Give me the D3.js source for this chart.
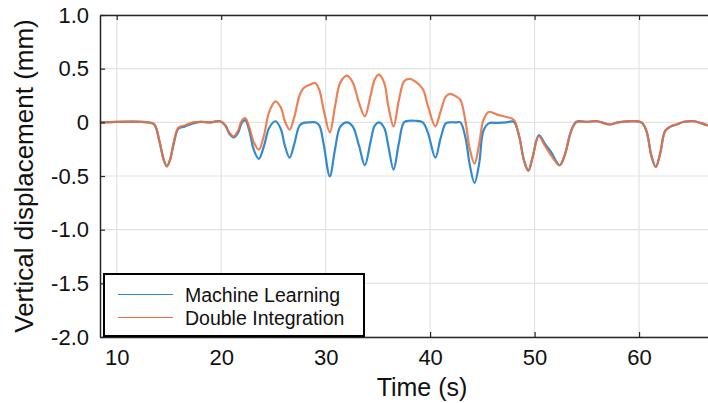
<!DOCTYPE html>
<html>
<head>
<meta charset="utf-8">
<script src="https://cdn.jsdelivr.net/npm/d3@7"></script>
<style>
  html, body { margin: 0; padding: 0; background: #fff; }
  svg { display: block; font-family: "Liberation Sans", Arial, sans-serif; }
</style>
</head>
<body>
<svg id="chart" width="708" height="403"></svg>
<script>
// Time samples (s)
const times = [
  8.4, 13.0, 13.6, 14.1, 14.5, 14.8, 15.1, 15.5, 15.9, 16.5, 17.3, 18.0, 19.0, 19.9,
  20.4, 20.8, 21.2, 21.6, 22.0, 22.3, 22.7, 23.1, 23.6, 24.1, 24.6, 25.2, 25.7, 26.1,
  26.55, 27.0, 27.5, 27.9, 28.5, 29.0, 29.4, 29.8, 30.4, 30.9, 31.4, 32.05, 32.6, 33.2,
  33.75, 34.3, 34.7, 35.1, 35.6, 36.0, 36.5, 37.0, 37.5, 38.0, 38.6, 39.3, 39.8, 40.5,
  41.0, 41.5, 41.9, 42.5, 42.9, 43.4, 43.8, 44.25, 44.7, 45.1, 45.6, 46.5, 47.3, 48.0,
  48.5, 49.0, 49.4, 49.8, 50.4, 51.0, 51.6, 52.4, 52.9, 53.5, 54.0, 55.0, 56.0, 57.2,
  58.0, 60.2, 60.7, 61.2, 61.6, 62.0, 62.5, 63.0, 63.6, 64.3, 65.3, 66.0, 66.6
];

// Vertical displacement estimated by the machine-learning model (mm)
const machineLearning = [
  0, 0, -0.02, -0.18, -0.35, -0.41, -0.35, -0.18, -0.06, -0.04, -0.01, 0.005, 0, 0.01,
  -0.03, -0.11, -0.14, -0.10, 0.0, 0.02, -0.08, -0.25, -0.34, -0.22, -0.05, 0.01, -0.06, -0.22,
  -0.33, -0.20, -0.03, -0.005, 0.0, 0.0, -0.03, -0.20, -0.503, -0.25, -0.04, 0.0, -0.04, -0.22,
  -0.40, -0.18, -0.03, 0.0, -0.05, -0.22, -0.44, -0.20, 0.0, 0.015, 0.015, 0.0, -0.10, -0.33,
  -0.15, -0.01, 0.0, 0.0, 0.0, -0.15, -0.40, -0.565, -0.38, -0.08, -0.01, -0.005, 0.0, 0.005,
  -0.12, -0.36, -0.45, -0.33, -0.12, -0.20, -0.28, -0.40, -0.30, -0.08, 0.005, 0.005, 0.01, -0.02,
  0.0, 0.0, -0.08, -0.32, -0.415, -0.30, -0.08, -0.04, -0.02, 0.005, 0.01, -0.01, -0.03
];

// Vertical displacement from double integration of acceleration (mm)
const doubleIntegration = [
  0, 0, -0.02, -0.18, -0.35, -0.41, -0.35, -0.17, -0.05, -0.03, 0.0, 0.005, 0, 0.01,
  -0.03, -0.10, -0.13, -0.08, 0.02, 0.04, -0.05, -0.18, -0.255, -0.12, 0.10, 0.196, 0.14, 0.01,
  -0.068, 0.05, 0.25, 0.32, 0.35, 0.367, 0.30, 0.12, -0.093, 0.15, 0.37, 0.435, 0.37, 0.18,
  0.056, 0.25, 0.40, 0.444, 0.37, 0.15, -0.037, 0.20, 0.38, 0.405, 0.38, 0.31, 0.15, -0.037,
  0.10, 0.24, 0.265, 0.24, 0.21, 0.0, -0.25, -0.385, -0.20, 0.02, 0.097, 0.07, 0.05, 0.025,
  -0.12, -0.36, -0.45, -0.33, -0.13, -0.22, -0.31, -0.40, -0.30, -0.08, 0.0, 0.005, 0.01, -0.02,
  0.0, 0.0, -0.08, -0.32, -0.415, -0.30, -0.08, -0.04, -0.02, 0.005, 0.01, -0.01, -0.03
];

const xTicks = [10, 20, 30, 40, 50, 60];
const xTickLabels = ["10", "20", "30", "40", "50", "60"];
const yTicks = [1.0, 0.5, 0, -0.5, -1.0, -1.5, -2.0];
const yTickLabels = ["1.0", "0.5", "0", "-0.5", "-1.0", "-1.5", "-2.0"];
const seriesNames = ["Machine Learning", "Double Integration"];
const seriesColors = ["#3389cf", "#e9703f"];

const svg = d3.select("#chart");
const plotLeft = 100, plotRight = 708, plotTop = 15, plotBottom = 337;

const x = d3.scaleLinear().domain([8.4, 66.6]).range([plotLeft, plotRight]);
const y = d3.scaleLinear().domain([-2, 1]).range([plotBottom, plotTop]);

// grid
const grid = svg.append("g").attr("stroke", "#e3e3e3").attr("stroke-width", 1.2);
grid.selectAll(".gx").data(xTicks).join("line")
  .attr("x1", d => x(d)).attr("x2", d => x(d))
  .attr("y1", plotTop).attr("y2", plotBottom);
grid.selectAll(".gy").data(yTicks).join("line")
  .attr("x1", plotLeft).attr("x2", plotRight)
  .attr("y1", d => y(d)).attr("y2", d => y(d));

// data lines
const series = [machineLearning, doubleIntegration];
const line = d3.line()
  .x((d, i) => x(times[i]))
  .y(d => y(d))
  .curve(d3.curveCatmullRom.alpha(0.5));

const plot = svg.append("g");
series.forEach((vals, k) => {
  plot.append("path")
    .datum(vals)
    .attr("fill", "none")
    .attr("stroke", seriesColors[k])
    .attr("stroke-width", 2.2)
    .attr("stroke-opacity", k === 1 ? 0.88 : 1)
    .attr("stroke-linejoin", "round")
    .attr("d", line);
});

// axes (ticks point inward)
const axisColor = "#262626";
const xAxisB = d3.axisBottom(x).tickValues(xTicks).tickSize(-5)
  .tickFormat((d, i) => xTickLabels[i]).tickSizeOuter(0).tickPadding(12);
const gxb = svg.append("g").attr("transform", `translate(0,${plotBottom})`).call(xAxisB);
gxb.select(".domain").attr("stroke", axisColor).attr("stroke-width", 1.5);
gxb.selectAll(".tick line").attr("stroke", axisColor).attr("stroke-width", 1.2);
gxb.selectAll(".tick text").attr("fill", "#111").attr("font-size", 22)
  .attr("font-family", "'Liberation Sans', Arial, sans-serif");

const xAxisT = d3.axisTop(x).tickValues(xTicks).tickSize(-5).tickFormat("").tickSizeOuter(0);
const gxt = svg.append("g").attr("transform", `translate(0,${plotTop})`).call(xAxisT);
gxt.select(".domain").attr("stroke", axisColor).attr("stroke-width", 1.5);
gxt.selectAll(".tick line").attr("stroke", axisColor).attr("stroke-width", 1.2);

const yAxis = d3.axisLeft(y).tickValues(yTicks).tickSize(-5)
  .tickFormat((d, i) => yTickLabels[i]).tickSizeOuter(0).tickPadding(11);
const gy = svg.append("g").attr("transform", `translate(${plotLeft},0)`).call(yAxis);
gy.select(".domain").attr("stroke", axisColor).attr("stroke-width", 1.5);
gy.selectAll(".tick line").attr("stroke", axisColor).attr("stroke-width", 1.2);
gy.selectAll(".tick text").attr("fill", "#111").attr("font-size", 22)
  .attr("font-family", "'Liberation Sans', Arial, sans-serif");

// axis titles
svg.append("text")
  .attr("x", 422).attr("y", 396)
  .attr("text-anchor", "middle")
  .attr("font-size", 25).attr("fill", "#111")
  .text("Time (s)");

svg.append("text")
  .attr("transform", `translate(33,${(plotTop + plotBottom) / 2}) rotate(-90)`)
  .attr("text-anchor", "middle")
  .attr("font-size", 26).attr("fill", "#111")
  .text("Vertical displacement (mm)");

// legend
const legend = svg.append("g");
legend.append("rect")
  .attr("x", 104).attr("y", 274).attr("width", 260).attr("height", 62)
  .attr("fill", "#fff").attr("stroke", "#000").attr("stroke-width", 2);
seriesNames.forEach((name, k) => {
  const ly = 294.5 + k * 23;
  legend.append("line")
    .attr("x1", 118).attr("x2", 173).attr("y1", ly).attr("y2", ly)
    .attr("stroke", seriesColors[k]).attr("stroke-width", 1);
  legend.append("text")
    .attr("x", 185).attr("y", ly + 7)
    .attr("font-size", 19.5).attr("fill", "#111")
    .text(name);
});
</script>
</body>
</html>
